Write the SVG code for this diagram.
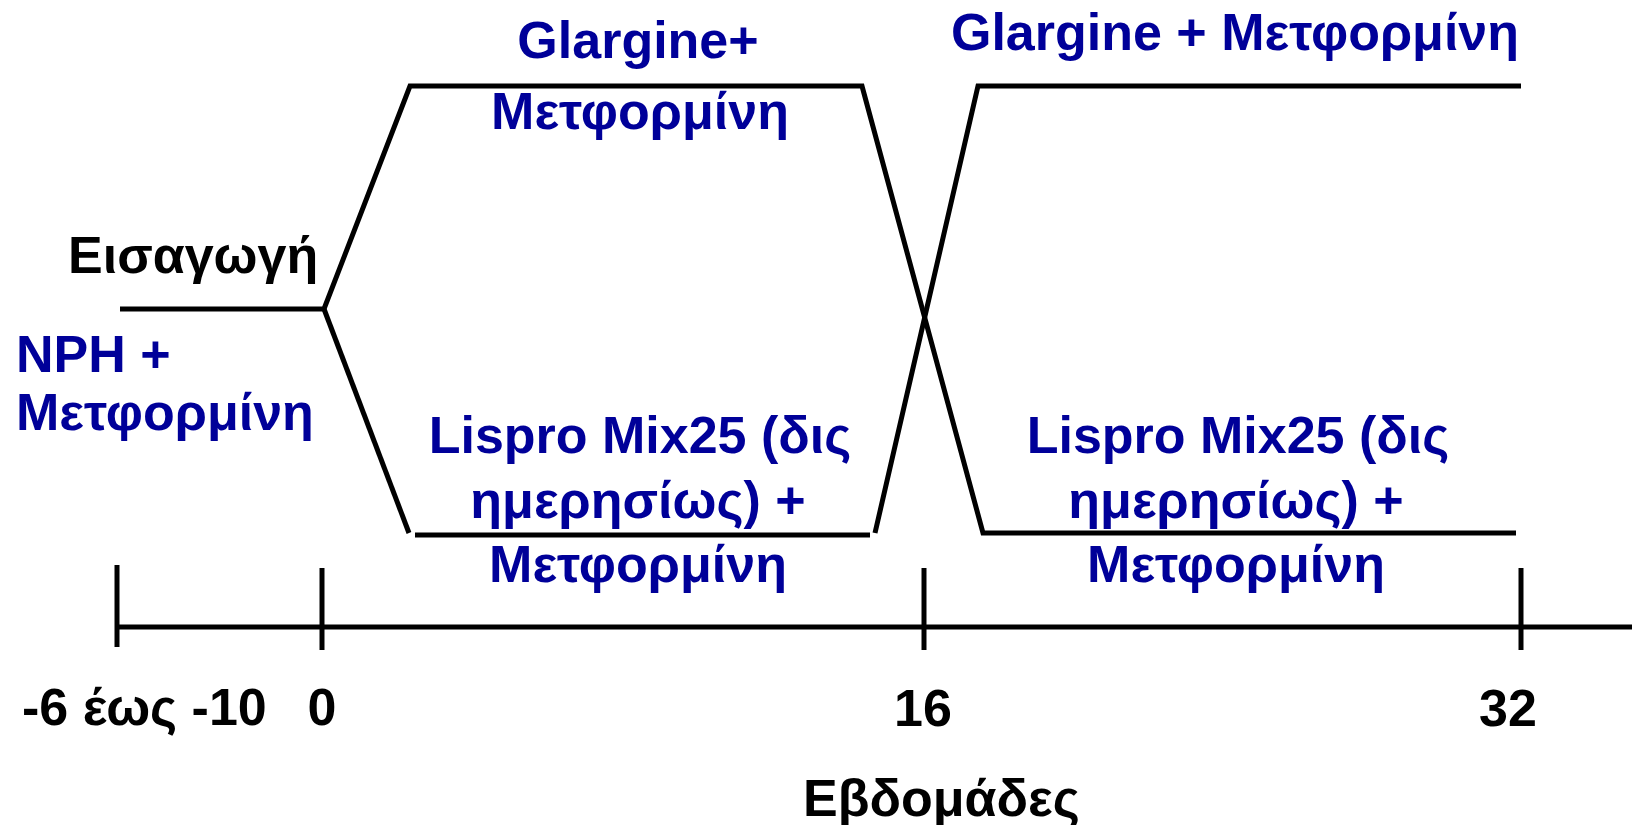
<svg xmlns="http://www.w3.org/2000/svg" width="1632" height="825" viewBox="0 0 1632 825">
<style>
.ln{stroke:#000;stroke-width:5;fill:none;stroke-linejoin:miter}
.t{font-family:"Liberation Sans",Arial,sans-serif;font-weight:bold;font-size:52px}
.b{fill:#000099}
.k{fill:#000}
</style>
<rect width="1632" height="825" fill="#fff"/>
<g id="connectors">
<polyline class="ln" points="120,309 324,309 410,86 862,86 983,533 1516,533"/>
<polyline class="ln" points="324,309 409,533"/>
<line class="ln" x1="415" y1="535" x2="870" y2="535"/>
<polyline class="ln" points="875,533 978,86 1521,86"/>
<line class="ln" x1="117" y1="627" x2="1632" y2="627"/>
<line class="ln" x1="117" y1="565" x2="117" y2="647"/>
<line class="ln" x1="322" y1="568" x2="322" y2="650"/>
<line class="ln" x1="924" y1="568" x2="924" y2="650"/>
<line class="ln" x1="1521" y1="568" x2="1521" y2="650"/>
</g>
<g id="intro"><text class="t k" x="68" y="273">Εισαγωγή</text></g>
<g id="nph"><text class="t b" x="16" y="372" font-size="47">NPH +</text><text class="t b" x="16" y="430" font-size="47">Μετφορμίνη</text></g>
<g id="glargine1"><text class="t b" x="638" y="58" text-anchor="middle">Glargine+</text><text class="t b" x="640" y="129" text-anchor="middle">Μετφορμίνη</text></g>
<g id="glargine2"><text class="t b" x="1235" y="50" text-anchor="middle">Glargine + Μετφορμίνη</text></g>
<g id="lispro1"><text class="t b" x="640" y="453" text-anchor="middle">Lispro Mix25 (δις</text><text class="t b" x="638" y="518" text-anchor="middle">ημερησίως) +</text><text class="t b" x="638" y="582" text-anchor="middle">Μετφορμίνη</text></g>
<g id="lispro2"><text class="t b" x="1238" y="453" text-anchor="middle">Lispro Mix25 (δις</text><text class="t b" x="1236" y="518" text-anchor="middle">ημερησίως) +</text><text class="t b" x="1236" y="582" text-anchor="middle">Μετφορμίνη</text></g>
<g id="axis-labels">
<text class="t k" x="22" y="725">-6 έως -10</text>
<text class="t k" x="322" y="725" text-anchor="middle">0</text>
<text class="t k" x="923" y="726" text-anchor="middle" font-size="48">16</text>
<text class="t k" x="1508" y="726" text-anchor="middle" font-size="48">32</text>
<text class="t k" x="803" y="816" font-size="50">Εβδομάδες</text>
</g>
</svg>
